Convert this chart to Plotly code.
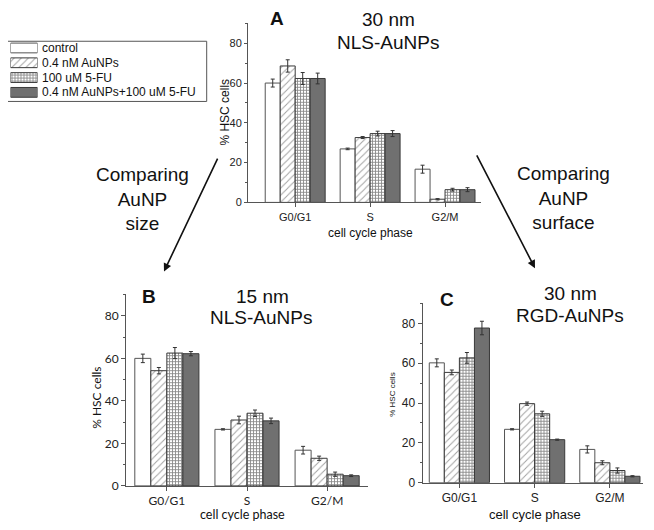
import plotly.graph_objects as go

W, H = 654, 530
OFF = 8  # page body margin observed in the rendered screenshot

categories = ["G0/G1", "S", "G2/M"]
series_names = ["control", "0.4 nM AuNPs", "100 uM 5-FU", "0.4 nM AuNPs+100 uM 5-FU"]

# Panel A: 30 nm NLS-AuNPs
A_control = [60.0, 26.9, 16.7]
A_control_err = [2.0, 0.4, 2.0]
A_aunp = [68.6, 32.6, 1.6]
A_aunp_err = [3.1, 0.5, 0.3]
A_fu = [62.3, 34.6, 6.4]
A_fu_err = [3.0, 1.2, 0.7]
A_combo = [62.3, 34.6, 6.4]
A_combo_err = [2.7, 1.5, 1.0]

# Panel B: 15 nm NLS-AuNPs
B_control = [60.0, 26.6, 16.8]
B_control_err = [2.0, 0.3, 1.8]
B_aunp = [54.2, 31.0, 13.0]
B_aunp_err = [1.5, 1.8, 1.0]
B_fu = [62.5, 34.2, 5.5]
B_fu_err = [2.6, 1.5, 1.0]
B_combo = [62.2, 30.6, 4.8]
B_combo_err = [1.0, 1.3, 0.4]

# Panel C: 30 nm RGD-AuNPs
C_control = [60.2, 26.8, 16.7]
C_control_err = [2.0, 0.3, 1.8]
C_aunp = [55.4, 39.7, 10.0]
C_aunp_err = [1.2, 0.8, 1.0]
C_fu = [62.7, 34.6, 6.1]
C_fu_err = [2.7, 1.3, 1.3]
C_combo = [77.7, 21.6, 3.2]
C_combo_err = [3.4, 0.3, 0.3]

y_ticks = [0, 20, 40, 60, 80]
legend_rows = [0, 1, 2, 3]


def px(x):
    return (x - OFF) / W


def py(y):
    return 1 - (y - OFF) / H


EDGE = "#3a3a3a"
styles = [
    dict(color="white", line=dict(color="#555555", width=1)),
    dict(color="white", line=dict(color=EDGE, width=1),
         pattern=dict(shape="/", fgcolor="#444444", bgcolor="white", size=5, solidity=0.2)),
    dict(color="white", line=dict(color=EDGE, width=1),
         pattern=dict(shape="+", fgcolor="#111111", bgcolor="white", size=3, solidity=0.5)),
    dict(color="#707070", line=dict(color=EDGE, width=1)),
]

panels = [
    ("x", "y", [A_control, A_aunp, A_fu, A_combo],
     [A_control_err, A_aunp_err, A_fu_err, A_combo_err]),
    ("x2", "y2", [B_control, B_aunp, B_fu, B_combo],
     [B_control_err, B_aunp_err, B_fu_err, B_combo_err]),
    ("x3", "y3", [C_control, C_aunp, C_fu, C_combo],
     [C_control_err, C_aunp_err, C_fu_err, C_combo_err]),
]

fig = go.Figure()
for xa, ya, vals, errs in panels:
    for i, name in enumerate(series_names):
        fig.add_trace(go.Bar(
            x=categories, y=vals[i], name=name,
            marker=styles[i],
            error_y=dict(type="data", array=errs[i], color="#333333", thickness=1, width=2),
            xaxis=xa, yaxis=ya, showlegend=False, legendgroup=name,
            offsetgroup=str(i),
        ))

# Legend swatches (drawn as a small auxiliary bar panel)
for i, name in enumerate(series_names):
    fig.add_trace(go.Bar(
        x=[1], y=[legend_rows[i]], orientation="h", name=name,
        marker=styles[i], width=0.66, offset=-0.33,
        xaxis="x4", yaxis="y4", showlegend=False, hoverinfo="skip",
    ))

ARIAL = "Liberation Sans, Arial, sans-serif"
B_FONT = "Lato, Open Sans, sans-serif"


def xaxis_cfg(domain, rng, font, size):
    return dict(domain=domain, range=rng, type="category", showline=True, linecolor="#555555",
                linewidth=1, ticks="outside", ticklen=4, tickcolor="#555555", showgrid=False,
                zeroline=False, tickfont=dict(family=font, size=size, color="#222222"))


def yaxis_cfg(domain, rng, anchor, font, size, ticklen=4):
    return dict(domain=domain, range=rng, anchor=anchor, showline=True, linecolor="#555555",
                linewidth=1, ticks="outside", ticklen=ticklen, tickcolor="#555555", tickvals=y_ticks,
                showgrid=False, zeroline=False, ticklabelstandoff=0,
                minor=dict(ticks="outside", ticklen=2, dtick=10, tick0=0, tickcolor="#555555"),
                tickfont=dict(family=font, size=size, color="#222222"))


fig.update_layout(
    width=W, height=H, margin=dict(l=0, r=0, t=0, b=0),
    paper_bgcolor="white", plot_bgcolor="white",
    barmode="group", bargap=0.2, bargroupgap=0,
    xaxis=dict(anchor="y", **xaxis_cfg([px(248), px(481)], [-0.63, 2.48], ARIAL, 11)),
    yaxis=yaxis_cfg([py(205), py(23)], [0, 90.3], "x", ARIAL, 11, ticklen=3),
    xaxis2=dict(anchor="y2", **xaxis_cfg([px(126), px(368)], [-0.51, 2.51], B_FONT, 12)),
    yaxis2=yaxis_cfg([py(492.3), py(298)], [0, 90.2], "x2", B_FONT, 12),
    xaxis3=dict(anchor="y3", **xaxis_cfg([px(422.5), px(643)], [-0.49, 2.44], ARIAL, 12)),
    yaxis3=yaxis_cfg([py(489), py(306.7)], [0, 90.4], "x3", ARIAL, 12),
    xaxis4=dict(domain=[px(10.5), px(37.5)], range=[0, 1], anchor="y4", visible=False,
                fixedrange=True),
    yaxis4=dict(domain=[py(101), py(41)], range=[3.5, -0.5], anchor="x4", visible=False,
                fixedrange=True),
    showlegend=False,
)

ann = []


def text(t, x, y, size, font=ARIAL, angle=0, bold=False, anchor="center"):
    if bold:
        t = "<b>" + t + "</b>"
    ann.append(dict(text=t, x=px(x), y=py(y), xref="paper", yref="paper",
                    xanchor=anchor, yanchor="middle", showarrow=False, textangle=angle,
                    borderpad=0,
                    font=dict(family=font, size=size, color="#111111")))


# Legend texts
legend_y = [48.5, 63.5, 78.5, 93.5]
for i, name in enumerate(series_names):
    text(name, 41, legend_y[i], 12, anchor="left")

# Panel titles
text("A", 277, 19, 19, bold=True)
text("30 nm", 388, 20, 19)
text("NLS-AuNPs", 388, 43, 19)
text("B", 149, 300, 19, bold=True)
text("15 nm", 262, 300, 19)
text("NLS-AuNPs", 261, 322, 19)
text("C", 447, 303, 19, bold=True)
text("30 nm", 570, 297, 19)
text("RGD-AuNPs", 570, 320, 19)

# Axis titles
text("% HSC cells", 225, 114, 12, angle=-90)
text("cell cycle phase", 370.5, 235.7, 12)
text("% HSC cells", 97, 403, 12, font=B_FONT, angle=-90)
text("cell cycle phase", 242, 521, 12.5, font=B_FONT)
text("% HSC cells", 393, 400, 8, angle=-90)
text("cell cycle phase", 535, 521, 13)

# Side captions
text("Comparing<br>AuNP<br>size", 142, 201.5, 19)
text("Comparing<br>AuNP<br>surface", 563, 200.5, 19)

# Arrows
for (hx, hy, tx, ty) in [(164, 275, 218.3, 160.7), (535, 271.7, 476, 157.3)]:
    ann.append(dict(x=px(hx), y=py(hy), xref="paper", yref="paper", text="",
                    showarrow=True, ax=tx - hx, ay=ty - hy, axref="pixel", ayref="pixel",
                    arrowhead=2, arrowsize=1, arrowwidth=1.6, arrowcolor="#111111", standoff=0))

fig.update_layout(
    annotations=ann,
    shapes=[dict(type="rect", xref="paper", yref="paper",
                 x0=px(6.7), x1=px(206.7), y0=py(102.7), y1=py(41.7),
                 line=dict(color="#555555", width=1), fillcolor="rgba(0,0,0,0)", layer="below")],
)
fig.write_html("out.html")
